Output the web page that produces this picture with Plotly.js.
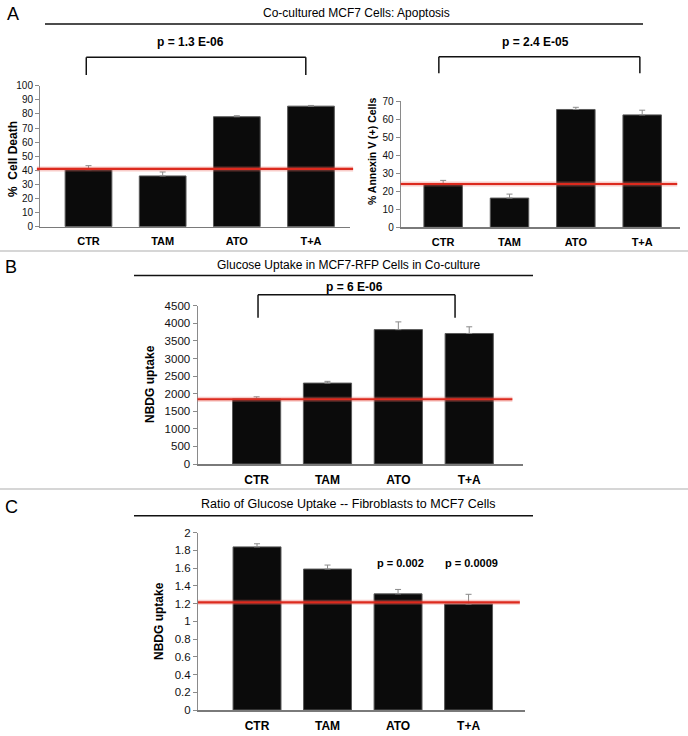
<!DOCTYPE html>
<html>
<head>
<meta charset="utf-8">
<script src="https://cdn.plot.ly/plotly-3.0.1.min.js"></script>
<style>
  body { margin: 0; background: #fff; }
  #chart { width: 688px; height: 736px; }
</style>
</head>
<body>
<div id="chart"></div>
<script>
var groups = ['CTR', 'TAM', 'ATO', 'T+A'];

// A, left: % cell death
var cellDeath = [40.5, 36, 78, 85.5];
var cellDeathErr = [2.8, 2.8, 0.7, 0.5];
var cellDeathRef = 41;

// A, right: % Annexin V (+) cells
var annexin = [24, 16.2, 65.3, 62.3];
var annexinErr = [2, 2.2, 1.2, 2.6];
var annexinRef = 24;

// B: NBDG uptake in MCF7-RFP cells
var uptake = [1850, 2300, 3820, 3710];
var uptakeErr = [60, 50, 220, 190];
var uptakeRef = 1840;

// C: ratio fibroblasts / MCF7
var ratio = [1.84, 1.59, 1.31, 1.195];
var ratioErr = [0.035, 0.045, 0.05, 0.11];
var ratioRef = 1.215;

var W = 688, H = 736;
function px(x) { return x / W; }
function py(y) { return 1 - y / H; }

var sans = 'Liberation Sans, Arial, sans-serif';

function bars(y, err, xa, ya, w) {
    return {
        type: 'bar', x: groups, y: y, xaxis: xa, yaxis: ya, width: w,
        marker: { color: '#0b0b0b', line: { color: '#5a5a5a', width: 1 } },
        error_y: { type: 'data', array: err, symmetric: false, arrayminus: [0, 0, 0, 0],
                   color: '#8a8a8a', thickness: 1, width: 3 },
        showlegend: false, hoverinfo: 'none'
    };
}

var data = [
    bars(cellDeath, cellDeathErr, 'x', 'y', 0.63),
    bars(annexin, annexinErr, 'x2', 'y2', 0.58),
    bars(uptake, uptakeErr, 'x3', 'y3', 0.68),
    bars(ratio, ratioErr, 'x4', 'y4', 0.68)
];

function xax(d0, d1, r, anchor, fs) {
    return {
        domain: [px(d0), px(d1)], range: r, anchor: anchor, type: 'category',
        showline: true, linecolor: '#7a7a7a', linewidth: 1.5,
        ticks: 'outside', ticklen: 4, tickcolor: 'rgba(0,0,0,0)',
        tickfont: { family: sans, size: fs, weight: 700, color: '#000' },
        showgrid: false, zeroline: false, fixedrange: true
    };
}
function yax(top, bottom, r, dt, anchor, fs) {
    return {
        domain: [py(bottom), py(top)], range: r, dtick: dt, anchor: anchor,
        showline: true, linecolor: '#8a8a8a', linewidth: 1,
        ticks: 'outside', ticklen: 4, tickcolor: '#8a8a8a',
        tickfont: { family: sans, size: fs, color: '#111' },
        showgrid: false, zeroline: false, fixedrange: true
    };
}

function refLine(xa, ya, v, x0, x1) {
    return [
        { type: 'line', xref: xa + ' domain', yref: ya, x0: x0, x1: x1, y0: v, y1: v,
          line: { color: 'rgba(235,110,100,0.35)', width: 5 } },
        { type: 'line', xref: xa + ' domain', yref: ya, x0: x0, x1: x1, y0: v, y1: v,
          line: { color: '#dc2a1e', width: 2.2 } }
    ];
}
function bracket(xa, a, b, top, bottom) {
    var s = { color: '#111', width: 1.5 };
    return [
        { type: 'line', xref: xa, yref: 'paper', x0: a, x1: a, y0: py(bottom), y1: py(top), line: s },
        { type: 'line', xref: xa, yref: 'paper', x0: a, x1: b, y0: py(top), y1: py(top), line: s },
        { type: 'line', xref: xa, yref: 'paper', x0: b, x1: b, y0: py(top), y1: py(bottom), line: s }
    ];
}
function hline(x0, x1, y, col, w) {
    return { type: 'line', xref: 'paper', yref: 'paper', x0: px(x0), x1: px(x1), y0: py(y), y1: py(y),
             line: { color: col, width: w } };
}
function label(x, y, t, size, opts) {
    var a = { xref: 'paper', yref: 'paper', x: px(x), y: py(y), text: t, showarrow: false,
              xanchor: 'center', yanchor: 'middle', font: { family: sans, size: size, color: '#000' } };
    for (var k in opts) a[k] = opts[k];
    return a;
}
function b(a) { a.font.weight = 700; return a; }

var shapes = [].concat(
    hline(0, 688, 251, '#c8c8c8', 1.5),
    hline(0, 688, 489, '#c8c8c8', 1.5),
    hline(45, 643, 24, '#111', 1.5),
    hline(134, 533, 275.5, '#111', 1.5),
    hline(134, 533, 515.7, '#111', 1.5),
    bracket('x', -0.03, 2.93, 57.3, 75),
    bracket('x2', -0.065, 2.965, 56.7, 73.3),
    bracket('x3', 0.02, 2.8, 294.7, 317.7),
    refLine('x', 'y', cellDeathRef, -0.01, 1.01),
    refLine('x2', 'y2', annexinRef, 0, 0.99),
    refLine('x3', 'y3', uptakeRef, 0, 0.968),
    refLine('x4', 'y4', ratioRef, 0, 0.983)
);

var annotations = [
    label(13, 14, 'A', 18),
    label(356, 13, 'Co-cultured MCF7 Cells: Apoptosis', 12),
    b(label(190, 42, 'p = 1.3 E-06', 12)),
    b(label(535, 42, 'p = 2.4 E-05', 12)),
    b(label(13, 159, '% &nbsp;Cell Death', 12, { textangle: -90 })),
    b(label(372, 152, '% Annexin V (+) Cells', 10.5, { textangle: -90 })),

    label(11, 267, 'B', 18),
    label(349, 265, 'Glucose Uptake in MCF7-RFP Cells in Co-culture', 12),
    b(label(354, 287, 'p = 6 E-06', 12)),
    b(label(150, 384, 'NBDG uptake', 12, { textangle: -90 })),

    label(11, 507, 'C', 18),
    label(348, 504, 'Ratio of Glucose Uptake -- Fibroblasts to MCF7 Cells', 12.5),
    b(label(400, 563, 'p = 0.002', 11)),
    b(label(471, 563, 'p = 0.0009', 11)),
    b(label(159, 621, 'NBDG uptake', 12, { textangle: -90 }))
];

var layout = {
    width: W, height: H,
    margin: { l: 0, r: 0, t: 0, b: 0 },
    paper_bgcolor: '#fff', plot_bgcolor: 'rgba(0,0,0,0)',
    showlegend: false,
    xaxis: xax(40, 350, [-0.654, 3.526], 'y', 11),
    yaxis: yax(85.7, 226.7, [0, 100], 10, 'x', 10),
    xaxis2: xax(400.7, 680, [-0.64, 3.57], 'y2', 11),
    yaxis2: yax(101, 227.3, [0, 70], 10, 'x2', 10),
    xaxis3: xax(197.5, 522.8, [-0.834, 3.756], 'y3', 12),
    yaxis3: yax(305.7, 464, [0, 4500], 500, 'x3', 11.5),
    xaxis4: xax(198, 525.4, [-0.837, 3.806], 'y4', 12),
    yaxis4: yax(532.7, 710, [0, 2], 0.2, 'x4', 11.5),
    shapes: shapes,
    annotations: annotations
};

Plotly.newPlot('chart', data, layout, { staticPlot: true });
</script>
</body>
</html>
